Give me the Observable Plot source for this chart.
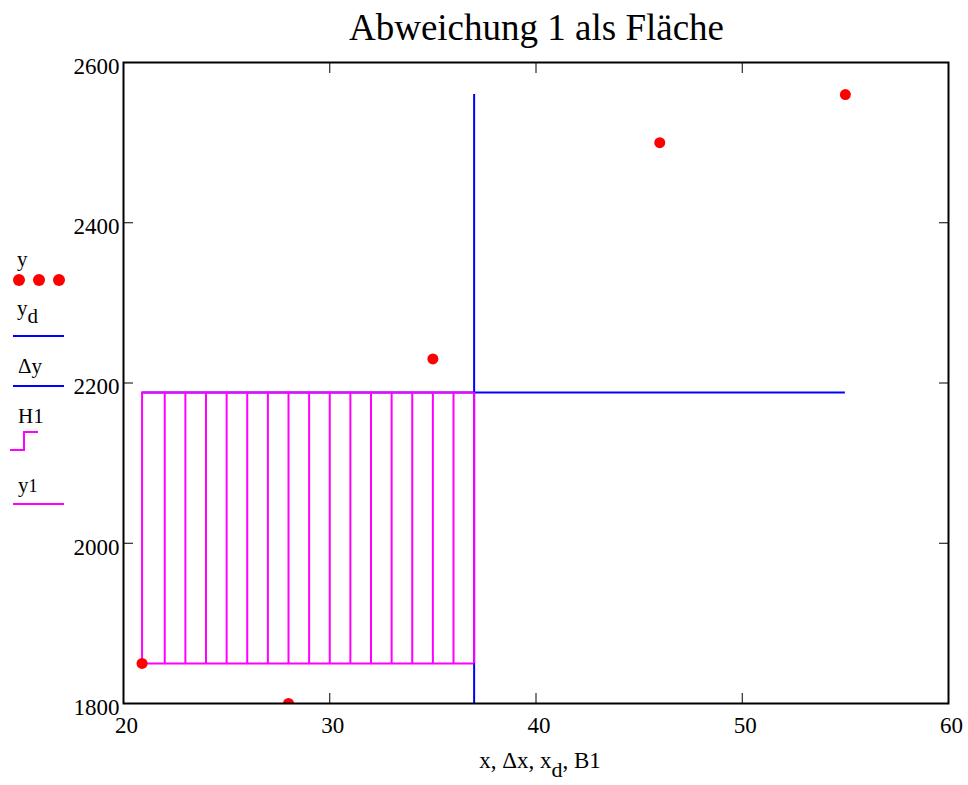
<!DOCTYPE html>
<html><head><meta charset="utf-8">
<script src="https://cdn.jsdelivr.net/npm/d3@7"></script>
<script src="https://cdn.jsdelivr.net/npm/@observablehq/plot@0.6"></script>
<style>
body{margin:0;background:#fff;}
#wrap{position:relative;width:968px;height:785px;font-family:"Liberation Serif","Times New Roman",serif;color:#000;}
#chart{position:absolute;left:0;top:0;}
#overlay{position:absolute;left:0;top:0;pointer-events:none;}
</style></head><body>
<div id="wrap">
<div id="chart"></div>
<svg id="overlay" width="968" height="785" font-family="Liberation Serif" fill="#000">
  <text x="536.5" y="40" text-anchor="middle" font-size="37">Abweichung 1 als Fläche</text>
  <text x="540" y="768" text-anchor="middle" font-size="23">x, Δx, x<tspan dy="9" font-size="22">d</tspan><tspan dy="-9">, B1</tspan></text>
  <g font-size="21" transform="translate(0,240)">
    <text x="17" y="26">y</text>
    <circle cx="19" cy="40" r="6" fill="#ff0000"/><circle cx="39" cy="40" r="6" fill="#ff0000"/><circle cx="59" cy="40" r="6" fill="#ff0000"/>
    <text x="17" y="75">y<tspan dy="8">d</tspan></text>
    <line x1="13" x2="64" y1="96" y2="96" stroke="#0000ff" stroke-width="2"/>
    <text x="18" y="133">Δy</text>
    <line x1="13" x2="64" y1="146" y2="146" stroke="#0000ff" stroke-width="2"/>
    <text x="18" y="183">H1</text>
    <polyline points="10,210 24,210 24,192 38,192" fill="none" stroke="#ff00ff" stroke-width="2"/>
    <text x="18" y="252">y<tspan font-size="18">1</tspan></text>
    <line x1="13" x2="64" y1="264" y2="264" stroke="#ff00ff" stroke-width="2"/>
  </g>
</svg>
</div>
<script>
// data
const xVals = [20.9, 28, 35, 46, 55];
const yVals = [1850, 1800, 2230, 2500, 2560];
const xd = [37];
const yd = [2188];
const y1Level = [1850];
const B1 = [20.9, 22, 23, 24, 25, 26, 27, 28, 29, 30, 31, 32, 33, 34, 35, 36, 37];
const xTicks = [20, 30, 40, 50, 60];
const yTicks = [1800, 2000, 2200, 2400, 2600];

const pts = xVals.map((x, i) => ({x, y: yVals[i]}));
const xMin = d3.min(xVals), xMax = d3.max(xVals);
const yMin = d3.min(yVals), yMax = d3.max(yVals);
const blank = () => "";
const plain = d => String(d);

const chart = Plot.plot({
  width: 968, height: 785,
  marginLeft: 123, marginRight: 20, marginTop: 62, marginBottom: 82,
  style: {fontFamily: "Liberation Serif", fontSize: "23px", color: "#000", background: "#fff"},
  x: {domain: [20, 60]},
  y: {domain: [1800, 2600]},
  marks: [
    Plot.ruleX(xd, {y1: yMin, y2: yMax, stroke: "#0000ff", strokeWidth: 2}),
    Plot.ruleY(yd, {x1: xMin, x2: xMax, stroke: "#0000ff", strokeWidth: 2}),
    Plot.ruleX(B1, {y1: y1Level[0], y2: yd[0], stroke: "#ff00ff", strokeWidth: 2}),
    Plot.ruleY([y1Level[0], yd[0]], {x1: B1[0], x2: B1[B1.length - 1], stroke: "#ff00ff", strokeWidth: 2}),
    Plot.dot(pts, {x: "x", y: "y", r: 5.5, fill: "#ff0000", clip: true}),
    // inward ticks on all four sides
    Plot.axisX(xTicks, {anchor: "bottom", tickSize: -10, tickFormat: blank, label: null}),
    Plot.axisX(xTicks, {anchor: "top", tickSize: -10, tickFormat: blank, label: null}),
    Plot.axisY(yTicks, {anchor: "left", tickSize: -10, tickFormat: blank, label: null}),
    Plot.axisY(yTicks, {anchor: "right", tickSize: -10, tickFormat: blank, label: null}),
    // tick labels
    Plot.axisX(xTicks, {anchor: "bottom", tickSize: 0, tickPadding: 13, dx: 3, label: null, tickFormat: plain}),
    Plot.axisY(yTicks, {anchor: "left", tickSize: 0, tickPadding: 4, dy: 4, label: null, tickFormat: plain}),
    Plot.frame({stroke: "#000", strokeWidth: 2})
  ]
});
document.getElementById("chart").appendChild(chart);
</script>
</body></html>
